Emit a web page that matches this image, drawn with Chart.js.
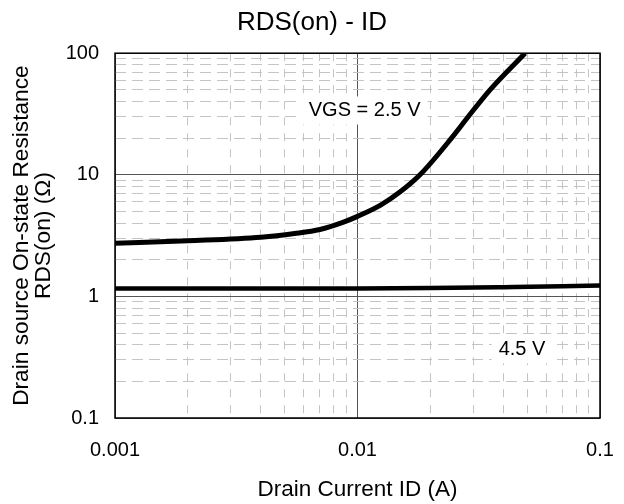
<!DOCTYPE html>
<html>
<head>
<meta charset="utf-8">
<title>RDS(on) - ID</title>
<script src="https://cdn.jsdelivr.net/npm/chart.js@4"></script>
<style>
  html, body { margin: 0; padding: 0; background: #fff; }
  canvas { display: block; }
</style>
</head>
<body>
<canvas id="grafico" width="624" height="504"></canvas>
<script>
// dados
const current25 = [0.001, 0.002, 0.004, 0.0055, 0.007, 0.0087, 0.01, 0.0125, 0.015, 0.0181, 0.0244, 0.0286, 0.0352, 0.0491];
const rds25 = [2.73, 2.87, 3.07, 3.29, 3.55, 4.06, 4.55, 5.66, 7.24, 10, 20, 30, 50, 100];

const current45 = [0.001, 0.003, 0.01, 0.02, 0.04, 0.07, 0.1];
const rds45 = [1.16, 1.16, 1.16, 1.17, 1.19, 1.21, 1.23];

// ticks
const xMajor = [0.001, 0.01, 0.1];
const xTickLabels = ["0.001", "0.01", "0.1"];
const yMajor = [0.1, 1, 10, 100];
const yTickLabels = ["0.1", "1", "10", "100"];
const minorSteps = [2, 3, 4, 5, 6, 7, 8, 9];

// rótulos das curvas
const noteTexts = ["VGS = 2.5 V", "4.5 V"];
const noteX = [0.0107, 0.0477];
const noteY = [33.8, 0.367];

const FONT = "'Liberation Sans', Arial, sans-serif";
Chart.defaults.font.family = FONT;
Chart.defaults.color = "#000";

function logTicks(majors) {
  const t = [];
  majors.forEach((m, i) => {
    t.push({ value: m, major: true });
    if (i < majors.length - 1) {
      minorSteps.forEach(s => t.push({ value: m * s, major: false }));
    }
  });
  return t;
}

function labelFor(majors, labels, v) {
  const i = majors.findIndex(m => Math.abs(m - v) / m < 1e-6);
  return i >= 0 ? labels[i] : "";
}

// caixas brancas com texto + moldura do gráfico
const notesPlugin = {
  id: "notes",
  beforeDatasetsDraw(chart) {
    const { ctx, chartArea, scales } = chart;
    ctx.save();
    ctx.font = "20px " + FONT;
    ctx.textAlign = "center";
    ctx.textBaseline = "middle";
    noteTexts.forEach((txt, i) => {
      const px = scales.x.getPixelForValue(noteX[i]);
      const py = scales.y.getPixelForValue(noteY[i]);
      const w = ctx.measureText(txt).width + 14;
      const h = 28;
      ctx.fillStyle = "#fff";
      ctx.fillRect(px - w / 2, py - h / 2, w, h);
      ctx.fillStyle = "#000";
      ctx.fillText(txt, px, py);
    });
    ctx.strokeStyle = "#000";
    ctx.lineWidth = 1.5;
    ctx.strokeRect(chartArea.left, chartArea.top,
      chartArea.right - chartArea.left, chartArea.bottom - chartArea.top);
    ctx.restore();
  }
};

const gridColor = c => (c.tick && c.tick.major) ? "#555" : "#c4c4c4";

new Chart(document.getElementById("grafico"), {
  type: "line",
  data: {
    datasets: [
      {
        label: "VGS = 2.5 V",
        data: current25.map((x, i) => ({ x: x, y: rds25[i] })),
        borderColor: "#000",
        borderWidth: 5,
        pointRadius: 0,
        cubicInterpolationMode: "monotone",
        fill: false
      },
      {
        label: "4.5 V",
        data: current45.map((x, i) => ({ x: x, y: rds45[i] })),
        borderColor: "#000",
        borderWidth: 4.5,
        pointRadius: 0,
        cubicInterpolationMode: "monotone",
        fill: false
      }
    ]
  },
  options: {
    responsive: false,
    animation: false,
    layout: { padding: 0 },
    plugins: {
      legend: { display: false },
      tooltip: { enabled: false },
      title: {
        display: true,
        text: "RDS(on) - ID",
        font: { size: 26, weight: "normal" },
        color: "#000",
        padding: { top: 7, bottom: 15 }
      }
    },
    scales: {
      x: {
        type: "logarithmic",
        min: 0.001,
        max: 0.1,
        afterBuildTicks: s => { s.ticks = logTicks(xMajor); },
        afterFit: s => { s.height = 86; s.paddingLeft = 0; s.paddingRight = 24; },
        ticks: {
          autoSkip: false,
          maxRotation: 0,
          padding: 20,
          font: { size: 20 },
          callback: v => labelFor(xMajor, xTickLabels, v)
        },
        grid: { color: gridColor, lineWidth: 1, drawTicks: false },
        border: { display: false, dash: c => (c.tick && !c.tick.major) ? [8, 8] : [] },
        title: {
          display: true,
          text: "Drain Current ID (A)",
          font: { size: 22.5 },
          padding: { top: 0, bottom: 1 }
        }
      },
      y: {
        type: "logarithmic",
        min: 0.1,
        max: 100,
        afterBuildTicks: s => { s.ticks = logTicks(yMajor); },
        afterFit: s => { s.width = 115; },
        ticks: {
          autoSkip: false,
          padding: 16,
          font: { size: 20 },
          callback: v => labelFor(yMajor, yTickLabels, v)
        },
        grid: { color: gridColor, lineWidth: 1, drawTicks: false },
        border: { display: false, dash: c => (c.tick && !c.tick.major) ? [11, 6] : [] },
        title: {
          display: true,
          text: ["Drain source On-state Resistance", "RDS(on) (Ω)"],
          font: { size: 22.7, lineHeight: 1 },
          padding: { top: 10, bottom: 0 }
        }
      }
    }
  },
  plugins: [notesPlugin]
});
</script>
</body>
</html>
